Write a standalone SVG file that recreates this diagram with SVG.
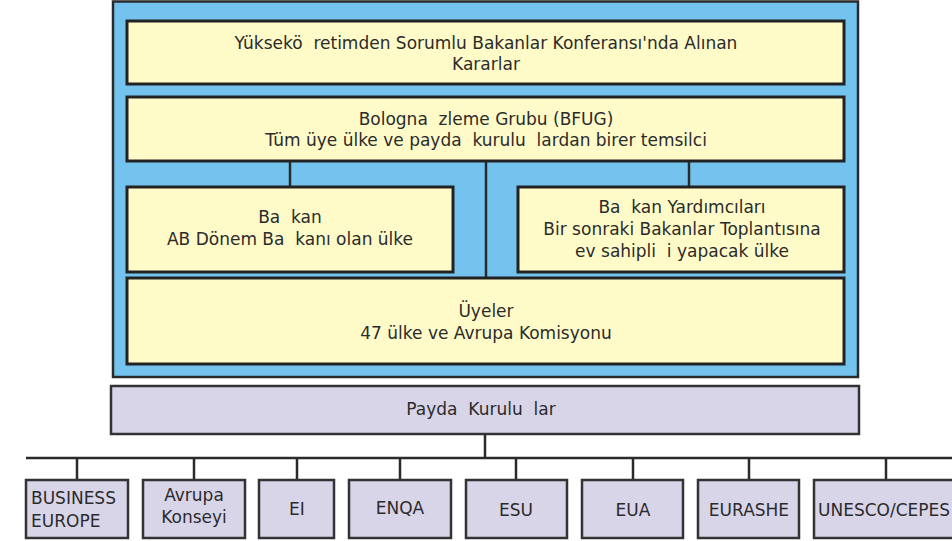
<svg xmlns="http://www.w3.org/2000/svg" width="952" height="541" viewBox="0 0 952 541">
<style>
text{font-family:"DejaVu Sans","Open Sans",sans-serif;font-size:17px;fill:#2b2b2b;white-space:pre}
.c{text-anchor:middle}
.outer{fill:#74c3ef;stroke:#2a2a2a;stroke-width:2.5}
.y{fill:#fffbc8;stroke:#222;stroke-width:3}
.p{fill:#d9d5e9;stroke:#333;stroke-width:2.5}
.ln{stroke:#2a2a2a;stroke-width:2.5;fill:none}
</style>
<rect width="952" height="541" fill="#fff"/>
<g id="frame"><rect class="outer" x="113" y="1.5" width="745" height="375.5"/></g>
<g id="connectors">
<line class="ln" x1="290" y1="161" x2="290" y2="187"/>
<line class="ln" x1="486" y1="161" x2="486" y2="278"/>
<line class="ln" x1="689" y1="161" x2="689" y2="187"/>
<line class="ln" x1="485" y1="434" x2="485" y2="458"/>
<line class="ln" x1="26" y1="458" x2="952" y2="458"/>
<line class="ln" x1="77" y1="458" x2="77" y2="480"/>
<line class="ln" x1="194" y1="458" x2="194" y2="480"/>
<line class="ln" x1="297" y1="458" x2="297" y2="480"/>
<line class="ln" x1="400" y1="458" x2="400" y2="480"/>
<line class="ln" x1="516" y1="458" x2="516" y2="480"/>
<line class="ln" x1="633" y1="458" x2="633" y2="480"/>
<line class="ln" x1="749" y1="458" x2="749" y2="480"/>
<line class="ln" x1="886" y1="458" x2="886" y2="480"/>
</g>
<g id="konferans"><rect class="y" x="127" y="21" width="717" height="63"/>
<text class="c" x="486" y="49">Yüksekö  retimden Sorumlu Bakanlar Konferansı'nda Alınan</text>
<text class="c" x="486" y="70">Kararlar</text></g>
<g id="bfug"><rect class="y" x="127" y="97" width="717" height="64"/>
<text class="c" x="486" y="125">Bologna  zleme Grubu (BFUG)</text>
<text class="c" x="486" y="146">Tüm üye ülke ve payda  kurulu  lardan birer temsilci</text></g>
<g id="baskan"><rect class="y" x="127" y="187" width="326" height="85"/>
<text class="c" x="290" y="223">Ba  kan</text>
<text class="c" x="290" y="245">AB Dönem Ba  kanı olan ülke</text></g>
<g id="yardimci"><rect class="y" x="518" y="187" width="326" height="85"/>
<text class="c" x="682" y="213">Ba  kan Yardımcıları</text>
<text class="c" x="682" y="235">Bir sonraki Bakanlar Toplantısına</text>
<text class="c" x="682" y="257">ev sahipli  i yapacak ülke</text></g>
<g id="uyeler"><rect class="y" x="127" y="278" width="717" height="86"/>
<text class="c" x="486" y="317">Üyeler</text>
<text class="c" x="486" y="339">47 ülke ve Avrupa Komisyonu</text></g>
<g id="paydas"><rect class="p" x="111" y="386" width="748" height="48"/>
<text class="c" x="481" y="415">Payda  Kurulu  lar</text></g>
<g id="business"><rect class="p" x="26" y="480" width="102" height="58"/>
<text x="31" y="504">BUSINESS</text><text x="31" y="527">EUROPE</text></g>
<g id="avrupa"><rect class="p" x="143" y="480" width="102" height="58"/>
<text class="c" x="194" y="501">Avrupa</text><text class="c" x="194" y="523">Konseyi</text></g>
<g id="ei"><rect class="p" x="259" y="480" width="75" height="58"/>
<text class="c" x="297" y="515">EI</text></g>
<g id="enqa"><rect class="p" x="349" y="480" width="102" height="58"/>
<text class="c" x="400" y="514">ENQA</text></g>
<g id="esu"><rect class="p" x="466" y="480" width="101" height="58"/>
<text class="c" x="516" y="516">ESU</text></g>
<g id="eua"><rect class="p" x="582" y="480" width="101" height="58"/>
<text class="c" x="633" y="516">EUA</text></g>
<g id="eurashe"><rect class="p" x="698" y="480" width="101" height="58"/>
<text class="c" x="749" y="516">EURASHE</text></g>
<g id="unesco"><rect class="p" x="814" y="480" width="150" height="58"/>
<text x="818" y="516">UNESCO/CEPES</text></g>
</svg>
